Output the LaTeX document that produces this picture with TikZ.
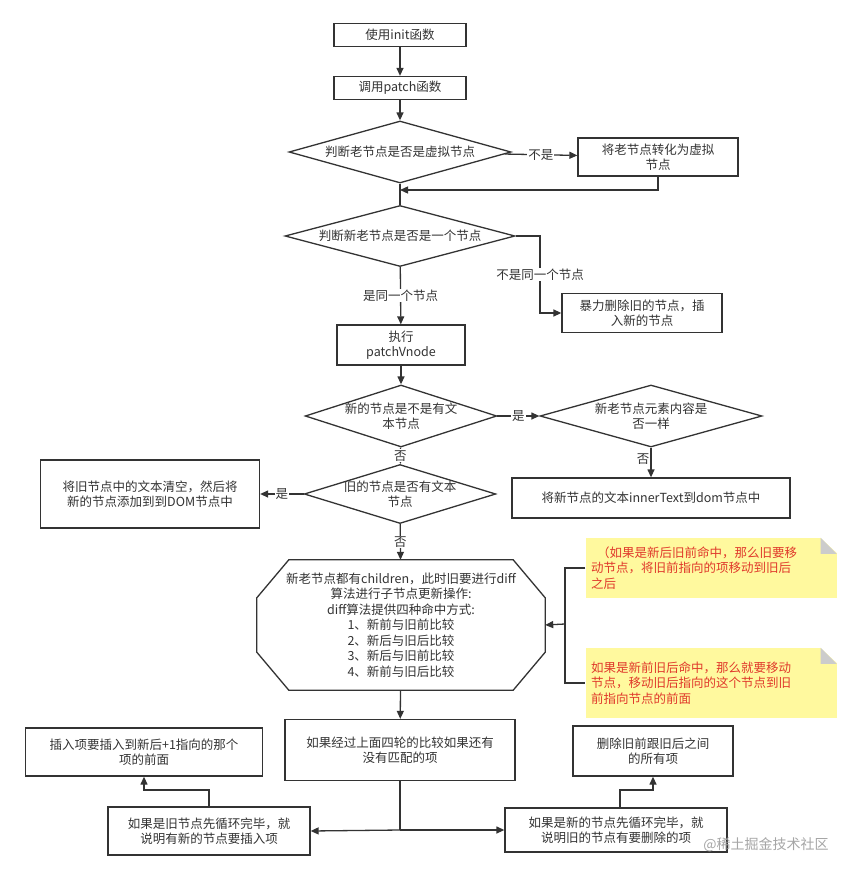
\documentclass[tikz,border=0pt]{standalone}
\usepackage{fontspec}
\setmainfont{Noto Sans CJK SC}
\usetikzlibrary{arrows.meta,shapes.geometric}
\definecolor{ln}{HTML}{333333}
\definecolor{notebg}{HTML}{FFF99E}
\definecolor{notetx}{HTML}{E0392B}
\begin{document}
\begin{tikzpicture}[x=1pt,y=-1pt,
  every node/.style={font=\fontsize{12.5}{15.5}\selectfont, text=ln, align=center, inner sep=1pt},
  box/.style={draw=ln, line width=1.3pt, rectangle, fill=white},
  dia/.style={draw=ln, line width=1.3pt, diamond, aspect=3.6, fill=white, inner sep=-2pt},
  conn/.style={draw=ln, line width=1.3pt, -{Triangle[length=8pt,width=7pt]}},
  plain/.style={draw=ln, line width=1.3pt},
  lbl/.style={fill=white, inner sep=1pt},
  note/.style={fill=notebg, text=notetx, align=left, inner sep=3pt}]
\useasboundingbox (0,0) rectangle (863,880);
\fill[white] (0,0) rectangle (863,880);
% nodes
\node[box, minimum width=132, minimum height=23] (n1) at (400,35) {使用init函数};
\node[box, minimum width=132, minimum height=23] (n2) at (400,88) {调用patch函数};
\node[dia, minimum width=222, minimum height=62] (d1) at (400,152) {判断老节点是否是虚拟节点};
\node[box, minimum width=160, minimum height=38] (n3) at (658,157) {将老节点转化为虚拟\\节点};
\node[dia, minimum width=230, minimum height=61] (d2) at (400,236) {判断新老节点是否是一个节点};
\node[box, minimum width=160, minimum height=39] (n4) at (642,313) {暴力删除旧的节点，插\\入新的节点};
\node[box, minimum width=128, minimum height=40] (n5) at (401,345) {执行\\patchVnode};
\node[dia, minimum width=158, minimum height=62] (d3) at (401,416) {新的节点是不是有文\\本节点};
\node[dia, minimum width=222, minimum height=62] (d4) at (651,416) {新老节点元素内容是\\否一样};
\node[box, minimum width=278, minimum height=40] (n6) at (651,498) {将新节点的文本innerText到dom节点中};
\node[dia, minimum width=146, minimum height=59] (d5) at (400,494) {旧的节点是否有文本\\节点};
\node[box, minimum width=219, minimum height=68] (n7) at (150,494) {将旧节点中的文本清空，然后将\\新的节点添加到到DOM节点中};
\node[minimum width=288, minimum height=130] (oct) at (401,625) {新老节点都有children，此时旧要进行diff\\算法进行子节点更新操作:\\diff算法提供四种命中方式:\\1、新前与旧前比较\\2、新后与旧后比较\\3、新后与旧前比较\\4、新前与旧后比较};
\draw[ln, line width=1.3pt] ([xshift=32]oct.north west) -- ([xshift=-32]oct.north east) -- ([yshift=-38]oct.north east) -- ([yshift=38]oct.south east) -- ([xshift=-32]oct.south east) -- ([xshift=32]oct.south west) -- ([yshift=38]oct.south west) -- ([yshift=-38]oct.north west) -- cycle;
\node[note, minimum width=251, minimum height=60, text width=240] (no1) at (711,568) {\hspace*{6pt}（如果是新后旧前命中，那么旧要移\\动节点，将旧前指向的项移动到旧后\\之后};
\node[note, minimum width=251, minimum height=70, text width=240] (no2) at (711,683) {如果是新前旧后命中，那么就要移动\\节点，移动旧后指向的这个节点到旧\\前指向节点的前面};
\fill[white] ([xshift=-16]no1.north east) -- ([xshift=1]no1.north east) -- ([xshift=1,yshift=-16]no1.north east) -- cycle;
\fill[white] ([xshift=-16]no2.north east) -- ([xshift=1]no2.north east) -- ([xshift=1,yshift=-16]no2.north east) -- cycle;
\fill[gray!40] ([xshift=-16]no1.north east) -- ([xshift=-16,yshift=-16]no1.north east) -- ([yshift=-16]no1.north east) -- cycle;
\fill[gray!40] ([xshift=-16]no2.north east) -- ([xshift=-16,yshift=-16]no2.north east) -- ([yshift=-16]no2.north east) -- cycle;
\node[box, minimum width=230, minimum height=61] (n8) at (400,750) {如果经过上面四轮的比较如果还有\\没有匹配的项};
\node[box, minimum width=237, minimum height=48] (n11) at (144,752) {插入项要插入到新后+1指向的那个\\项的前面};
\node[box, minimum width=160, minimum height=50] (n12) at (653,751) {删除旧前跟旧后之间\\的所有项};
\node[box, minimum width=202, minimum height=48] (n9) at (209,831) {如果是旧节点先循环完毕，就\\说明有新的节点要插入项};
\node[box, minimum width=222, minimum height=44] (n10) at (616,830) {如果是新的节点先循环完毕，就\\说明旧的节点有要删除的项};
\node[text=gray!70, font=\fontsize{14}{16}\selectfont] (wm) at (766,845) {@稀土掘金技术社区};
\coordinate (j1) at (400,190);
\coordinate (j2) at (400,830);
% connectors
\draw[conn] (n1) -- (n2);
\draw[conn] (n2) -- (d1);
\draw[conn] (d1) -- node[lbl, pos=0.5] {不是} (n3);
\draw[plain] (d1.south) -- (d2.north);
\draw[conn] (n3.south) |- (j1);
\draw[conn] (d2.east) -- (540,236) |- node[lbl, pos=0.25] {不是同一个节点} (n4.west);
\draw[conn] (d2) -- node[lbl] {是同一个节点} (n5);
\draw[conn] (n5) -- (d3);
\draw[conn] (d3) -- node[lbl] {是} (d4);
\draw[conn] (d4) -- node[lbl, left, pos=0.4] {否} (n6);
\draw[conn] (d3) -- node[lbl] {否} (d5);
\draw[conn] (d5) -- node[lbl] {是} (n7);
\draw[conn] (d5) -- node[lbl] {否} (oct);
\draw[plain] (no1.west) -- (565,568) -- (565,683) -- (no2.west);
\draw[conn] (565,624) -- (oct.east);
\draw[conn] (oct) -- (n8);
\draw[plain] (n8.south) -- (j2);
\draw[conn] (j2) -- (n9.east);
\draw[conn] (j2) -- (n10.west);
\draw[conn] (n9.north) -- (209,790) -| (n11.south);
\draw[conn] ([xshift=4]n10.north) -- (620,790) -| (n12.south);
\end{tikzpicture}
\end{document}
